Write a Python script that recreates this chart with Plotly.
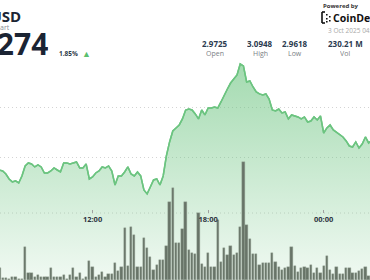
import plotly.graph_objects as go
import pandas as pd

# ---------------- data ----------------
start_time = "2025-10-02 07:10"
n_points = 117
times = pd.date_range(start_time, periods=n_points, freq="10min")

price = [
    2.9869, 2.9859, 2.9829, 2.9779, 2.9749, 2.9759, 2.9738, 2.9809, 2.9910, 2.9940,
    2.9930, 2.9900, 2.9920, 2.9900, 2.9839, 2.9839, 2.9859, 2.9890, 2.9869, 2.9849,
    2.9940, 2.9940, 2.9930, 2.9940, 2.9950, 2.9890, 2.9890, 2.9930, 2.9779, 2.9799,
    2.9839, 2.9859, 2.9900, 2.9890, 2.9910, 2.9859, 2.9718, 2.9809, 2.9809, 2.9849,
    2.9900, 2.9829, 2.9809, 2.9849, 2.9809, 2.9668, 2.9628, 2.9698, 2.9769, 2.9779,
    2.9718, 2.9809, 3.0011, 3.0152, 3.0263, 3.0293, 3.0323, 3.0384, 3.0474, 3.0484,
    3.0474, 3.0434, 3.0384, 3.0474, 3.0424, 3.0494, 3.0494, 3.0505, 3.0494, 3.0555,
    3.0625, 3.0686, 3.0746, 3.0787, 3.0827, 3.0938, 3.0918, 3.0757, 3.0767, 3.0706,
    3.0656, 3.0636, 3.0625, 3.0636, 3.0585, 3.0474, 3.0464, 3.0484, 3.0444, 3.0454,
    3.0384, 3.0424, 3.0414, 3.0404, 3.0384, 3.0404, 3.0353, 3.0363, 3.0404, 3.0373,
    3.0414, 3.0242, 3.0293, 3.0323, 3.0273, 3.0252, 3.0232, 3.0202, 3.0162, 3.0111,
    3.0101, 3.0152, 3.0091, 3.0131, 3.0202, 3.0142, 3.0172,
]

volume = [
    12, 2, 2, 1, 3, 3, 1, 1, 33, 7,
    7, 3, 5, 3, 3, 3, 12, 3, 3, 3,
    5, 1, 5, 12, 3, 7, 1, 3, 19, 13,
    3, 5, 8, 3, 6, 6, 17, 9, 13, 52,
    14, 53, 45, 13, 13, 42, 32, 23, 10, 15,
    20, 20, 34, 78, 92, 37, 37, 51, 78, 30,
    27, 26, 67, 16, 13, 27, 13, 13, 60, 18,
    32, 25, 34, 25, 27, 53, 118, 55, 41, 26,
    26, 15, 17, 17, 17, 27, 18, 13, 10, 12,
    13, 33, 14, 8, 12, 13, 12, 15, 7, 12,
    7, 14, 24, 10, 6, 13, 6, 6, 12, 12,
    7, 7, 9, 11, 13, 4, 10,
]

tick_times = ["2025-10-02 12:00", "2025-10-02 18:00", "2025-10-03 00:00"]
tick_labels = ["12:00", "18:00", "00:00"]

stat_values = ["2.9725", "3.0948", "2.9618", "230.21 M"]
stat_names = ["Open", "High", "Low", "Vol"]

# ---------------- figure ----------------
W, H = 370, 280
LINE = "rgb(108,196,128)"
FONT = "Open Sans"
GRID = "rgb(212,212,212)"

def px(x):
    return x / W

def py(y):
    return 1 - y / H

fig = go.Figure()

fig.add_trace(go.Scatter(
    x=times, y=price, mode="lines",
    line=dict(color=LINE, width=1.5),
    fill="tozeroy",
    fillgradient=dict(
        type="vertical",
        colorscale=[[0, "rgba(108,196,128,0.10)"], [1, "rgba(108,196,128,0.62)"]],
        start=2.876, stop=3.0948,
    ),
    hoverinfo="skip",
))

fig.add_trace(go.Bar(
    x=times, y=volume, yaxis="y2",
    width=430000,
    marker=dict(color="rgb(104,116,104)", line=dict(color="rgb(150,162,150)", width=0.4)),
    hoverinfo="skip",
))

fig.add_trace(go.Scatter(
    x=times, y=price, mode="lines",
    line=dict(color=LINE, width=1.5),
    hoverinfo="skip",
))

fig.update_layout(
    width=W, height=H,
    margin=dict(l=0, r=0, t=0, b=0),
    paper_bgcolor="white", plot_bgcolor="white",
    showlegend=False,
    bargap=0,
    xaxis=dict(
        type="date",
        range=["2025-10-02 07:11:41", "2025-10-03 02:24:18"],
        tickvals=tick_times, ticktext=tick_labels,
        ticks="inside", ticklen=3, tickcolor="#a0a0a0", tickwidth=1,
        tickfont=dict(family=FONT, size=7.5, color="#2e3440", weight="bold"),
        showgrid=False, zeroline=False, showline=False,
        anchor="free", position=py(213),
    ),
    yaxis=dict(
        range=[2.876, 3.1583],
        tickvals=[3.00, 3.05],
        showticklabels=False,
        showgrid=True, gridcolor=GRID, griddash="1px,3px", gridwidth=1,
        zeroline=False,
    ),
    yaxis2=dict(
        range=[0, 280], overlaying="y", visible=False,
    ),
    shapes=[dict(
        type="line", xref="paper", yref="paper", x0=0, x1=1, y0=py(213), y1=py(213),
        line=dict(color=GRID, width=1, dash="1px,3px"), layer="below",
    )],
)

ann = []
def text(t, x, y, size, color, anchor="left", bold=False, box_h=None):
    a = dict(
        text=t, x=px(x), y=py(y), xref="paper", yref="paper",
        xanchor=anchor, yanchor="middle", showarrow=False,
        font=dict(family=FONT, size=size, color=color, weight="bold" if bold else "normal"),
    )
    if box_h is not None:
        a["height"] = box_h
        a["valign"] = "middle"
    ann.append(a)

text("XRP/USD", 23, 15, 15, "#1b2433", anchor="right", bold=True, box_h=15)
text("XRP Chart", 12, 27, 7, "#8a8f98", anchor="right", box_h=8)
text("3.0274", 50, 43.5, 30, "#1b2433", anchor="right", bold=True, box_h=27)
text("1.85%", 57, 54, 6.5, "#2d3a4a", bold=True)
text("▲", 80, 53, 9, "#5cbf6e")
text("Powered by", 321, 6, 6, "#333333", bold=True)
text("CoinDesk", 331, 17.5, 10.5, "#111111", bold=True, box_h=12)
text("3 Oct 2025 04:00", 326, 30, 6.5, "#a8a8a8", box_h=8)

centers = [215, 260, 295, 345]
for v, n, cx in zip(stat_values, stat_names, centers):
    text(v, cx, 43, 8, "#2b3a4f", anchor="center", bold=True, box_h=10)
    text(n, cx, 53, 7, "#7b7f86", anchor="center", box_h=9)

fig.update_layout(annotations=ann)

# CoinDesk logo mark: bracket plus dots
logo = [
    dict(x0=322, x1=322, y0=12, y1=23),
    dict(x0=322, x1=325, y0=12, y1=12),
    dict(x0=322, x1=325, y0=23, y1=23),
]
for s in logo:
    fig.add_shape(type="line", xref="paper", yref="paper",
                  x0=px(s["x0"]), x1=px(s["x1"]), y0=py(s["y0"]), y1=py(s["y1"]),
                  line=dict(color="#111111", width=1.6))
for (dx, dy) in [(326, 14), (326, 18), (326, 21), (329, 16), (329, 20)]:
    fig.add_shape(type="rect", xref="paper", yref="paper",
                  x0=px(dx), x1=px(dx + 1.6), y0=py(dy + 1.6), y1=py(dy),
                  line=dict(width=0), fillcolor="#111111")

fig.write_html("out.html")
